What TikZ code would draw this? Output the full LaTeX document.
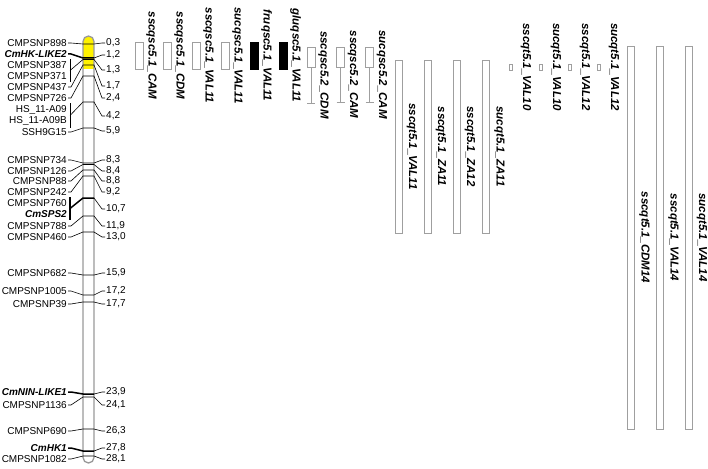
\documentclass[tikz,border=0pt]{standalone}
\usepackage{fontspec}
\setmainfont{Liberation Sans}
\usetikzlibrary{calc}
\newcommand\mkr[6]{%
 \node[lbl,anchor=east] (L#1) at (67,#3) {#2};
 \node[lbl,anchor=west] (R#1) at (106,#6) {#5};
 \coordinate (A#1) at (83,#4); \coordinate (B#1) at (94,#4);
 \draw[conn] (L#1.east) ++(1,0) -- ++(3,0) -- (A#1) -- (B#1) -- ([xshift=-4pt]R#1.west) -- ([xshift=-1pt]R#1.west);}
\newcommand\mkg[6]{%
 \node[glbl,anchor=east] (L#1) at (67,#3) {#2};
 \node[lbl,anchor=west] (R#1) at (106,#6) {#5};
 \coordinate (A#1) at (83,#4); \coordinate (B#1) at (94,#4);
 \draw[gconn] (L#1.east) ++(1,0) -- ++(3,0) -- (A#1) -- (B#1);
 \draw[conn] (B#1) -- ([xshift=-4pt]R#1.west) -- ([xshift=-1pt]R#1.west);}
\newcommand\mkb[9]{%
 \node[lbl,anchor=east] (L#1a) at (67,#3) {#2};
 \node[lbl,anchor=east] (L#1b) at (67,#5) {#4};
 \node[lbl,anchor=west] (R#1) at (106,#8) {#7};
 \coordinate (A#1) at (83,#6); \coordinate (B#1) at (94,#6);
 \coordinate (K#1) at ($(L#1a.east)!0.5!(L#1b.east)+(3,0)$);
 \draw[#9] ([shift={(3,-2)}]L#1a.north east) -- ([shift={(3,2)}]L#1b.south east);
 \draw[#9] (K#1) -- (A#1) -- (B#1);
 \draw[conn] (B#1) -- ([xshift=-4pt]R#1.west) -- ([xshift=-1pt]R#1.west);}
\newcommand\qs[6]{%
 \path[#5] ({#2-4},#3) rectangle ({#2+4},#4);
 \node[qlbl] (Q#1) at ({#2+7},{(#3+#4)/2}) {#6};}
\newcommand\qw[6]{%
 \draw[whisk] (#2,#4) -- (#2,#5);
 \draw[whisk] ({#2-4},#5) -- ({#2+4},#5);
 \path[qbox] ({#2-4},#3) rectangle ({#2+4},#4);
 \node[qlbl] (Q#1) at ({#2+7},{(#3+#5)/2}) {#6};}
\newcommand\qt[5]{%
 \path[qbox] ({#2-3.5},#3) rectangle ({#2+3.5},#4);
 \node[qlbl] (Q#1) at ({#2+8},{(#3+#4)/2}) {#5};}
\newcommand\qy[3]{%
 \path[qbox,line width=0.8pt] ({#2-1.5},64) rectangle ({#2+1.5},70);
 \node[qlbl] (Q#1) at ({#2+9.5},67) {#3};}
\begin{document}
\begin{tikzpicture}[x=1pt,y=-1pt,
  lbl/.style={font=\fontsize{10}{12}\selectfont,inner sep=0pt},
  glbl/.style={font=\fontsize{10}{12}\selectfont\bfseries\itshape,inner sep=0pt},
  qlbl/.style={font=\fontsize{11.5}{13}\selectfont\bfseries\itshape,inner sep=0pt,rotate=-90,anchor=south},
  conn/.style={line width=0.6pt,black},
  gconn/.style={line width=1.5pt,black},
  qbox/.style={draw=gray!75,line width=0.9pt,fill=white},
  qblack/.style={draw=black,line width=0.9pt,fill=black},
  whisk/.style={draw=gray!75,line width=0.9pt},
  chrom/.style={draw=gray!80,line width=1.3pt}]
\useasboundingbox (0,0) rectangle (708,468);
% chromosome
\begin{scope}
\clip[rounded corners=5.5pt] (83,36) rectangle (94,463);
\fill[white] (83,36) rectangle (94,463);
\fill[yellow] (83,36) rectangle (94,69);
\end{scope}
\draw[chrom,rounded corners=5.5pt] (83,36) rectangle (94,463);
% markers
\mkr{1}{CMPSNP898}{43}{44}{0,3}{43}
\mkg{2}{CmHK-LIKE2}{54}{58}{1,2}{55}
\mkb{3}{CMPSNP387}{65}{CMPSNP371}{76}{59.5}{1,3}{70}{conn}
\mkr{4}{CMPSNP437}{87}{65}{1,7}{86}
\mkr{5}{CMPSNP726}{98}{76}{2,4}{98}
\mkb{6}{HS\_11-A09}{110}{HS\_11-A09B}{121}{102}{4,2}{116}{conn}
\mkr{7}{SSH9G15}{132}{128}{5,9}{131}
\mkr{8}{CMPSNP734}{160}{163}{8,3}{160}
\mkr{9}{CMPSNP126}{171}{164.5}{8,4}{171}
\mkr{10}{CMPSNP88}{181}{170}{8,8}{181}
\mkr{11}{CMPSNP242}{192}{176}{9,2}{192}
\mkb{12}{CMPSNP760}{203}{\bfseries\itshape CmSPS2}{214}{198}{10,7}{209}{gconn}
\mkr{13}{CMPSNP788}{226}{216}{11,9}{226}
\mkr{14}{CMPSNP460}{237}{232}{13,0}{237}
\mkr{15}{CMPSNP682}{273}{275}{15,9}{273}
\mkr{16}{CMPSNP1005}{291}{295}{17,2}{291}
\mkr{17}{CMPSNP39}{304}{302}{17,7}{304}
\mkg{18}{CmNIN-LIKE1}{392}{394}{23,9}{392}
\mkr{19}{CMPSNP1136}{405}{397}{24,1}{405}
\mkr{20}{CMPSNP690}{431}{429}{26,3}{431}
\mkg{21}{CmHK1}{448}{451}{27,8}{448}
\mkr{22}{CMPSNP1082}{459}{456}{28,1}{459}
% QTLs
\qs{0}{139}{42}{69}{qbox}{sscqsc5.1\_CAM}
\qs{1}{167}{42}{69}{qbox}{sscqsc5.1\_CDM}
\qs{2}{196}{42}{69}{qbox}{sscqsc5.1\_VAL11}
\qs{3}{225}{42}{69}{qbox}{sucqsc5.1\_VAL11}
\qs{4}{254}{42}{69}{qblack}{fruqsc5.1\_VAL11}
\qs{5}{283}{42}{69}{qblack}{gluqsc5.1\_VAL11}
\qw{6}{311}{47}{67}{103}{sscqsc5.2\_CDM}
\qw{7}{340.5}{47}{67}{102}{sscqsc5.2\_CAM}
\qw{8}{369.5}{47}{67}{102}{sucqsc5.2\_CAM}
\qt{9}{398.5}{60}{233}{sscqt5.1\_VAL11}
\qt{10}{427.5}{60}{233}{sscqt5.1\_ZA11}
\qt{11}{456.5}{60}{233}{sscqt5.1\_ZA12}
\qt{12}{486}{60}{233}{sucqt5.1\_ZA11}
\qy{13}{511}{sscqt5.1\_VAL10}
\qy{14}{541}{sucqt5.1\_VAL10}
\qy{15}{570}{sscqt5.1\_VAL12}
\qy{16}{599}{sucqt5.1\_VAL12}
\qt{17}{631}{46}{429}{sscqt5.1\_CDM14}
\qt{18}{660}{46}{429}{sscqt5.1\_VAL14}
\qt{19}{688.5}{46}{429}{sucqt5.1\_VAL14}
\end{tikzpicture}
\end{document}
